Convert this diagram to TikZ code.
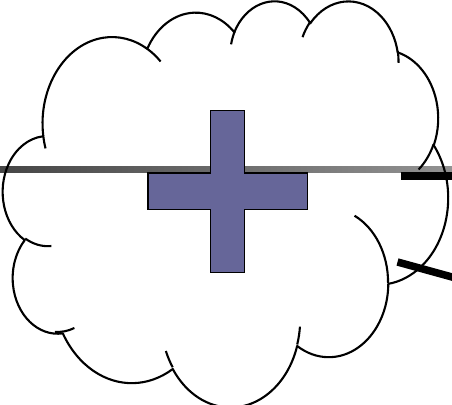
\documentclass[tikz,border=0pt]{standalone}
\usetikzlibrary{shadings}
\definecolor{crossfill}{HTML}{666699}
\definecolor{gradL}{HTML}{464646}
\definecolor{gradR}{HTML}{929292}
\tikzset{
  declare function={
    nrm(\d)=\d-360*round(\d/360);
    vp(\a,\rx,\ry)=\a+nrm(atan2(\rx*sin(\a),\ry*cos(\a))-\a);
  },
  cloudline/.style={line width=2.1pt, line join=round, line cap=butt},
  crossshape/.style={fill=crossfill, draw=black, line width=1.4pt, line join=miter},
  blackbar/.style={line width=7.5pt, line cap=butt, draw=black},
}
\begin{document}
\begin{tikzpicture}[x=1pt,y=-1pt]
\useasboundingbox (0,0) rectangle (452,404);
\fill[white] (0,0) rectangle (452,404);
\clip (0,0) rectangle (452,404);
% gradient line
\shade[left color=gradL, right color=gradR] (0,166) rectangle (452,172.3);
% cloud
\begin{scope}[shift={(3pt,0pt)}, x=1pt, y=1pt, xscale=10.301, yscale=-9.398]
\draw[cloudline] (3.900,14.370)
  arc[x radius=6.753, y radius=9.190, start angle={vp(-190.48748,6.753,9.190)}, end angle={vp(-66.70695,6.753,9.190)}]
  arc[x radius=5.333, y radius=7.267, start angle={vp(-144.10238,5.333,7.267)}, end angle={vp(-54.15715,5.333,7.267)}]
  arc[x radius=4.365, y radius=5.945, start angle={vp(-145.80792,4.365,5.945)}, end angle={vp(-46.08490,4.365,5.945)}]
  arc[x radius=4.857, y radius=6.595, start angle={vp(-130.98607,4.857,6.595)}, end angle={vp(-13.74434,4.857,6.595)}]
  arc[x radius=5.333, y radius=7.273, start angle={vp(-78.70888,5.333,7.273)}, end angle={vp(30.31804,5.333,7.273)}]
  arc[x radius=6.775, y radius=9.220, start angle={vp(-46.26725,6.775,9.220)}, end angle={vp(84.00175,6.775,9.220)}]
  arc[x radius=5.785, y radius=7.867, start angle={vp(0.62502,5.785,7.867)}, end angle={vp(114.65835,5.785,7.867)}]
  arc[x radius=6.752, y radius=9.215, start angle={vp(22.4516,6.752,9.215)}, end angle={vp(137.62415,6.752,9.215)}]
  arc[x radius=7.720, y radius=10.543, start angle={vp(66.24263,7.720,10.543)}, end angle={vp(141.95365,7.720,10.543)}]
  arc[x radius=4.360, y radius=5.918, start angle={vp(-274.94208,4.360,5.918)}, end angle={vp(-128.20651,4.360,5.918)}]
  arc[x radius=4.345, y radius=5.945, start angle={vp(-246.8285,4.345,5.945)}, end angle={vp(-94.30965,4.345,5.945)}]
  -- cycle;
\draw[cloudline]
  (4.693,26.177) arc[x radius=4.345, y radius=5.945, start angle={vp(86.742,4.345,5.945)}, end angle={vp(113.1715,4.345,5.945)}]
  (6.928,34.899) arc[x radius=4.360, y radius=5.918, start angle={vp(73.61047,4.360,5.918)}, end angle={vp(92.74852,4.360,5.918)}]
  (16.478,39.090) arc[x radius=6.752, y radius=9.215, start angle={vp(137.62415,6.752,9.215)}, end angle={vp(151.70525,6.752,9.215)}]
  (28.827,34.751) arc[x radius=6.752, y radius=9.215, start angle={vp(6.45327,6.752,9.215)}, end angle={vp(22.45162,6.752,9.215)}]
  (34.129,22.954) arc[x radius=5.785, y radius=7.867, start angle={vp(-70.29235,5.785,7.867)}, end angle={vp(0.62502,5.785,7.867)}]
  (41.798,15.354) arc[x radius=5.333, y radius=7.273, start angle={vp(30.31803,5.333,7.273)}, end angle={vp(58.06953,5.333,7.273)}]
  (38.324,5.426) arc[x radius=4.857, y radius=6.595, start angle={vp(-13.74433,4.857,6.595)}, end angle={vp(1.11457,4.857,6.595)}]
  (29.078,3.952) arc[x radius=4.857, y radius=6.595, start angle={vp(-149.18145,4.857,6.595)}, end angle={vp(-130.98608,4.857,6.595)}]
  (22.141,4.720) arc[x radius=4.365, y radius=5.945, start angle={vp(-163.49427,4.365,5.945)}, end angle={vp(-145.80792,4.365,5.945)}]
  (14.000,5.192) arc[x radius=6.753, y radius=9.190, start angle={vp(-66.70695,6.753,9.190)}, end angle={vp(-54.3876,6.753,9.190)}]
  (4.127,15.789) arc[x radius=6.753, y radius=9.190, start angle={vp(157.65435,6.753,9.190)}, end angle={vp(169.51252,6.753,9.190)}];
\end{scope}
% cross
\draw[crossshape] (210.5,110.5) -- (244.5,110.5) -- (244.5,173) -- (307.5,173) -- (307.5,209.5)
  -- (244.5,209.5) -- (244.5,272.5) -- (210.5,272.5) -- (210.5,209.5) -- (148,209.5)
  -- (148,173) -- (210.5,173) -- cycle;
% black bars
\coordinate (hbA) at (400.5,176.2);
\coordinate (hbB) at (460,176.2);
\coordinate (dbA) at (397.5,262);
\coordinate (dbB) at (460,279.2);
\draw[blackbar] (hbA) -- (hbB);
\draw[blackbar] (dbA) -- (dbB);
\end{tikzpicture}
\end{document}
